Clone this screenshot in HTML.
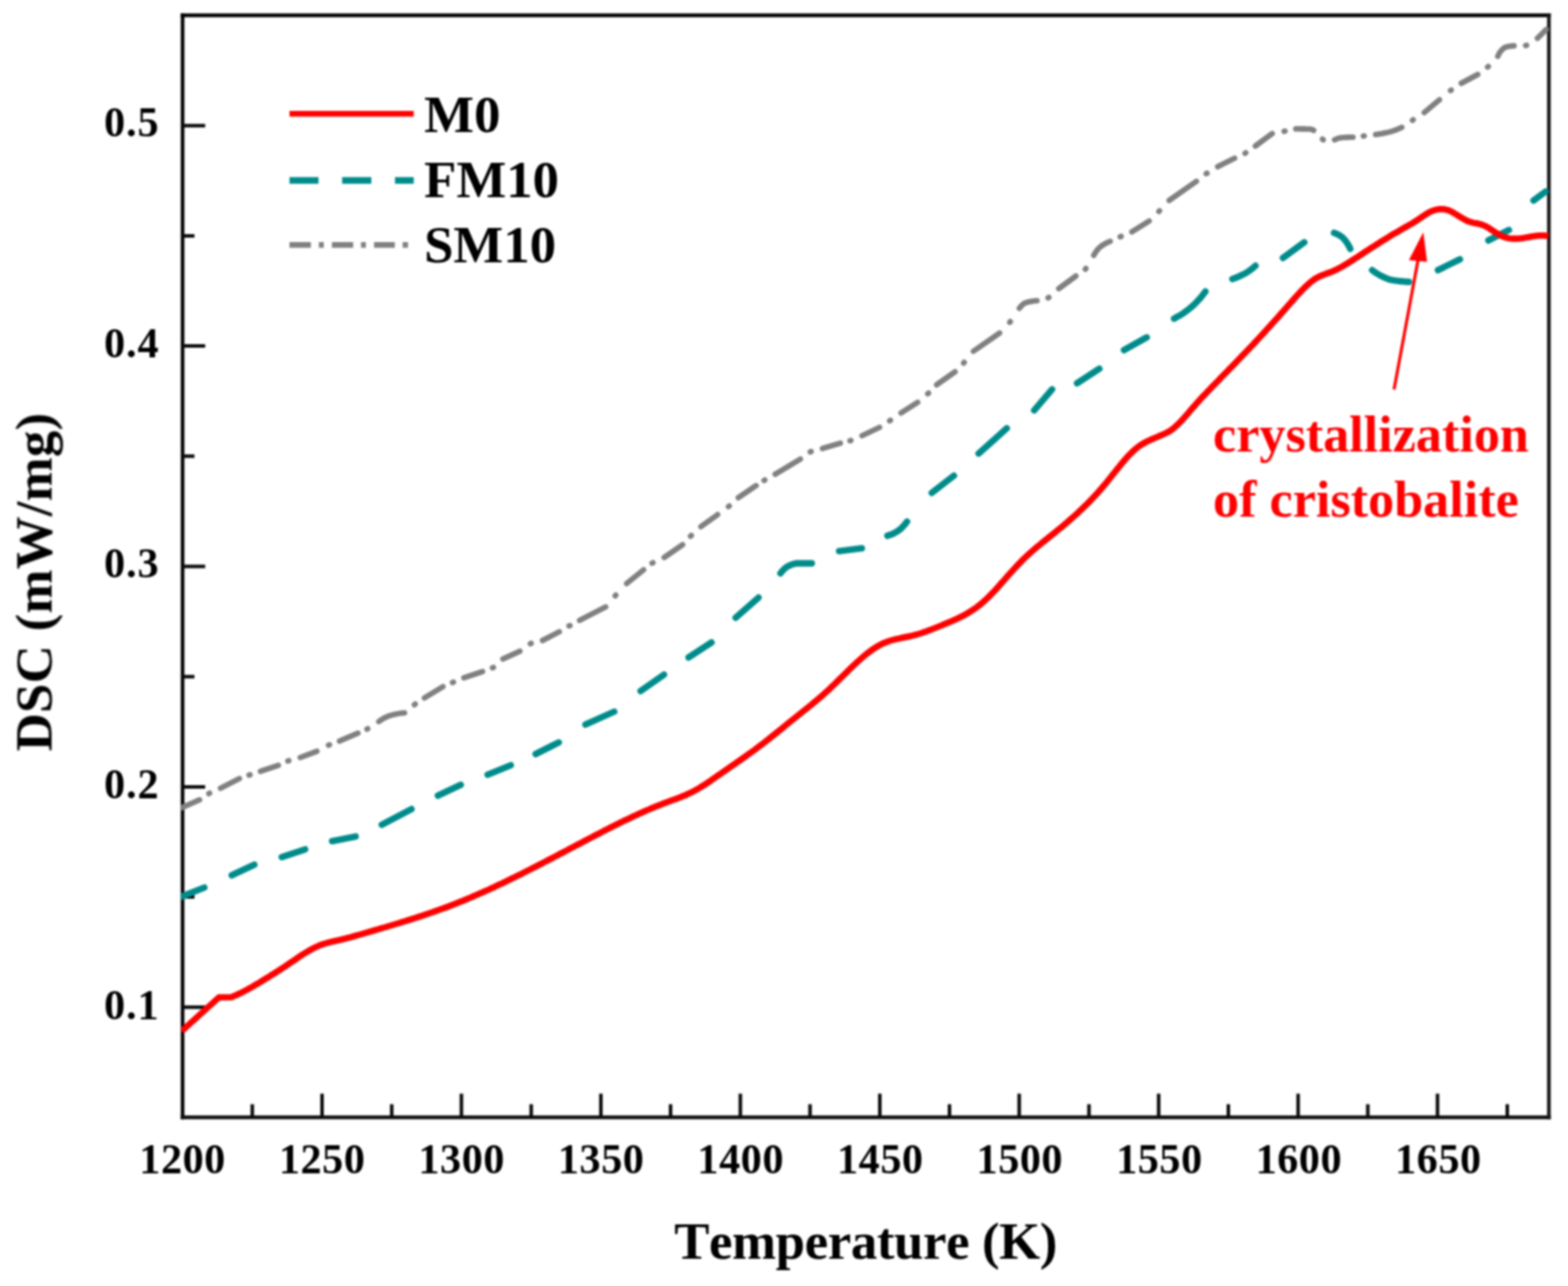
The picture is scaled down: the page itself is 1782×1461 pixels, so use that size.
<!DOCTYPE html>
<html lang="en"><head><meta charset="utf-8"><title>DSC curves</title>
<style>html,body{margin:0;padding:0;background:#fff}body{width:1782px;height:1461px;overflow:hidden}svg{display:block}text{font-family:'Liberation Serif', 'DejaVu Serif', serif;font-weight:bold}</style>
</head><body>
<svg width="1782" height="1461" viewBox="0 0 1782 1461" role="img" aria-label="DSC curves of M0, FM10 and SM10 versus temperature">
<rect x="0" y="0" width="1782" height="1461" fill="#fff"/>
<filter id="soft" x="0" y="0" width="1782" height="1461" filterUnits="userSpaceOnUse" color-interpolation-filters="sRGB"><feGaussianBlur stdDeviation="0.9"/></filter>
<g filter="url(#soft)">
<g stroke="#000" fill="none" stroke-linecap="butt">
<line x1="207.5" y1="15.2" x2="207.5" y2="1271.6" stroke-width="4.1"/>
<line x1="205.4" y1="17.4" x2="1762.4" y2="17.4" stroke-width="4.3"/>
<line x1="205.4" y1="1269.4" x2="1762.4" y2="1269.4" stroke="#0c0c0c" stroke-width="4.2"/>
<line x1="1760.3" y1="15.2" x2="1760.3" y2="1271.6" stroke="#141414" stroke-width="4.1"/>
<path stroke="#0a0a0a" stroke-width="4" d="M286.7 1269.4 V1254.4 M366 1269.4 V1242.6 M445.2 1269.4 V1254.4 M524.4 1269.4 V1242.6 M603.7 1269.4 V1254.4 M682.9 1269.4 V1242.6 M762.1 1269.4 V1254.4 M841.4 1269.4 V1242.6 M920.6 1269.4 V1254.4 M999.9 1269.4 V1242.6 M1079.1 1269.4 V1254.4 M1158.3 1269.4 V1242.6 M1237.6 1269.4 V1254.4 M1316.8 1269.4 V1242.6 M1396 1269.4 V1254.4 M1475.3 1269.4 V1242.6 M1554.5 1269.4 V1254.4 M1633.7 1269.4 V1242.6 M1713 1269.4 V1254.4 M207.5 1144.3 H233.2 M207.5 1019.1 H221 M207.5 893.9 H233.2 M207.5 768.7 H221 M207.5 643.5 H233.2 M207.5 518.3 H221 M207.5 393.1 H233.2 M207.5 267.9 H221 M207.5 142.7 H233.2"/>
</g>
<clipPath id="plotclip"><rect x="205.6" y="15" width="1554.9" height="1256.6"/></clipPath>
<g fill="none" stroke-linejoin="round" clip-path="url(#plotclip)">
<path stroke="#808080" stroke-width="6.3" stroke-linecap="round" d="M206.5 917.6 L226.8 908.7 M250.6 895.5 L272.1 884.5 M296 876.3 L316.3 869.6 M341.2 860.6 L360.2 853.5 M385.9 841.9 L406.8 832.9 M430.5 819.7 L432.9 818 L435.4 816.5 L437.9 815.1 L440.5 813.9 L443.1 813 L445.7 812.3 L448.4 811.6 L451.2 811 L454 810.5 L456.8 810.1 L459.7 809.9 M482.4 792.9 L503.4 780.1 M527.2 770 L548.4 763 M571.6 748.6 L590.8 739.8 M616.6 727.6 L635.6 717.8 M658.7 704.7 L688.3 689.5 M712.2 662.9 L731.4 647.4 M754.8 633.3 L775.7 618.8 M796.6 598.3 L815.5 584.7 M839.1 565.4 L859.3 551.7 M881 538.7 L909.6 521.6 M934.7 509.5 L955 503.4 M979.7 495 L999.6 485.5 M1024 469.1 L1042.9 457.1 M1064.5 437.1 L1085.4 422.4 M1106.3 399 L1136 378.4 M1158.5 350.2 L1160.5 347.7 L1162.6 345.7 L1164.9 344.2 L1167.3 343.4 L1169.8 342.8 L1172.6 342.3 L1175.5 341.9 L1178.5 341.7 M1203.3 327.9 L1222.7 313.6 M1243 290.1 L1244.5 287.5 L1246.1 285.2 L1247.8 283 L1249.7 281.2 L1251.7 279.5 L1254 278 L1256.4 276.6 L1259 275.3 L1261.7 274.2 M1286.4 263.4 L1306 251.1 M1328.8 227.7 L1359.7 206 M1383.9 189.4 L1403.1 179.8 M1426.7 165.9 L1445.8 151.8 M1472.7 146.4 L1475.9 146.4 L1478.9 146.5 L1481.9 146.5 L1484.8 146.6 L1487.6 146.7 L1490.4 146.8 L1492.9 148.1 M1516.7 158.8 L1519.6 157.6 L1522.5 156.7 L1525.4 156.4 L1528.4 156.2 L1531.5 156 L1534.5 155.9 L1537.6 155.8 M1563.4 152.8 L1566.5 152.4 L1569.6 151.9 L1572.6 151.3 L1575.7 150.7 L1578.6 150 L1581.6 149.2 L1584.5 148.3 L1587.4 147.2 L1590.3 146 L1593.1 144.7 M1618.6 127.8 L1635.9 113.4 M1660.7 94.6 L1679.4 84.6 M1702.2 64 L1703.7 60.8 L1705.6 58.1 L1707.6 55.9 L1709.7 54.2 L1712 53.3 L1714.5 52.7 L1717.4 52.3 L1720.6 52 M1747.3 43.5 L1757.3 33.5 M237.4 901.6 L238.2 901.1 M283.1 880.5 L284.1 880.2 M327.2 864.5 L328.2 864.2 M373.4 846.6 L374.4 846.2 M417.1 828.4 L417.9 827.9 M471 800.6 L471.8 799.9 M514.3 775.4 L515.3 775 M559.7 758.7 L560.7 758.3 M602.8 731.3 L603.6 730.8 M646.7 711.1 L647.7 710.8 M699.2 676.9 L699.8 676.2 M741.1 639.8 L742.1 639.3 M784.8 609.1 L785.6 608.4 M827.9 575.5 L828.7 574.9 M868.4 545.8 L869.2 545.3 M920.8 513.4 L921.8 513 M966 500.7 L967 500.4 M1011.1 478.1 L1011.9 477.5 M1054.4 447.3 L1055.2 446.7 M1095.2 412.5 L1095.8 411.7 M1147.6 366.2 L1148.2 365.4 M1191.2 338.4 L1192 337.9 M1233.5 305.8 L1234.1 305 M1273.1 269 L1274.1 268.6 M1317.1 240.2 L1317.7 239.5 M1370.9 197.3 L1371.7 196.9 M1415 174.1 L1415.8 173.6 M1459.4 149.2 L1460.4 149 M1503 158.2 L1503.8 158.8 M1549.4 154.6 L1550.4 154.4 M1605.2 136.7 L1606 136.1 M1648.5 102.8 L1649.3 102.3 M1690.6 76.2 L1691.4 75.6 M1733.9 51.7 L1734.9 51.4"/>
<path stroke="#008b8b" stroke-width="7.4" stroke-linecap="round" d="M206.7 1018.5 L232.2 1008.4 M263.4 994.4 L289 982.3 M320.2 973.7 L346.8 964.9 M377.5 955.6 L404.1 950.3 M433.9 937 L467.6 919.2 M497.7 903.9 L523.6 891.7 M554.2 880.2 L580.5 869.4 M608.8 856.6 L635 843.5 M665.4 823.2 L698 808.5 M728.1 785.1 L754.6 766.4 M782.6 746.9 L808.6 729.9 M836.1 701.8 L862 678.9 M887 651.4 L888.8 649 L890.7 646.9 L892.8 645 L895 643.6 L897.4 642.4 L900.1 641.3 L902.9 640.4 L905.7 640 L908.5 640 L911.3 640 L914.1 640 L916.9 640 L919.8 640 L922.6 640 M953.7 626.1 L979.4 622.9 M1008.5 608.6 L1011.3 607.8 L1013.9 606.8 L1016.4 605.6 L1018.7 604.3 L1020.9 602.9 L1023.1 601.2 L1025.1 599.3 L1027.1 597.2 L1029 595 L1030.8 592.6 M1059 559.9 L1084.1 540.4 M1112.2 515.2 L1144.2 486.6 M1175.4 466.1 L1195.6 442.4 M1224.1 435.4 L1249.4 418.9 M1277.4 397.8 L1303.2 383.3 M1334.3 362 L1336.9 360.6 L1339.6 359.1 L1342.1 357.6 L1344.6 356 L1347 354.3 L1349.3 352.6 L1351.6 350.8 L1353.8 348.9 L1356 346.9 L1358.2 344.9 L1360.3 342.8 L1362.3 340.6 L1364.3 338.4 L1366.2 336 L1368.1 333.6 L1369.9 331.2 M1400.6 316.9 L1403.2 316 L1405.9 315 L1408.4 313.9 L1410.9 312.7 L1413.4 311.5 L1415.8 310.2 L1418.1 308.8 L1420.3 307.3 L1422.6 305.6 L1424.7 303.8 L1426.8 301.9 M1458.1 293 L1482.3 275.3 M1516.1 264.5 L1518.9 265.6 L1521.5 266.8 L1523.9 268.3 L1526.2 270.3 L1528.3 272.5 L1530.1 274.9 L1531.7 277.3 L1533.2 279.9 L1534.5 282.6 M1559.4 306.9 L1561.8 308.7 L1564.3 310.4 L1566.8 311.9 L1569.4 313.3 L1572.1 314.6 L1574.8 315.9 L1577.7 317 L1580.5 317.9 L1583.4 318.4 L1586.2 318.8 L1589.2 319.2 L1592.1 319.5 L1595.1 319.8 L1598.1 320 L1601.1 320.2 M1634.2 306.8 L1659.1 294.7 M1691.5 273.1 L1714.8 261.3 M1742.9 227.8 L1756.6 217.6"/>
<path stroke="#ff0000" stroke-width="7.2" d="M206.5 1171.4 L248.8 1133.2 L256 1133 L262.9 1132.8 L265.4 1131.8 L267.9 1130.7 L270.4 1129.6 L272.9 1128.4 L275.4 1127.2 L277.9 1125.9 L280.4 1124.6 L282.9 1123.2 L285.4 1121.8 L287.9 1120.4 L290.4 1118.9 L292.9 1117.5 L295.4 1116 L297.9 1114.4 L300.4 1112.9 L302.9 1111.3 L305.4 1109.8 L307.9 1108.2 L310.4 1106.7 L312.9 1105.1 L315.4 1103.5 L317.9 1101.9 L320.4 1100.3 L322.9 1098.7 L325.4 1097 L327.9 1095.3 L330.4 1093.6 L332.9 1091.9 L335.4 1090.2 L337.9 1088.5 L340.4 1086.8 L342.9 1085.1 L345.4 1083.5 L347.9 1082 L350.4 1080.5 L352.9 1079.1 L355.4 1077.7 L357.9 1076.5 L360.4 1075.3 L362.9 1074.2 L365.4 1073.2 L367.9 1072.4 L370.4 1071.6 L372.9 1070.9 L375.4 1070.3 L377.9 1069.7 L380.4 1069.1 L382.9 1068.6 L385.4 1068 L387.8 1067.4 L390.3 1066.8 L392.8 1066.2 L395.3 1065.5 L397.8 1064.9 L400.3 1064.2 L402.8 1063.5 L405.3 1062.8 L407.8 1062.1 L410.3 1061.4 L412.8 1060.7 L415.3 1059.9 L417.8 1059.2 L420.3 1058.5 L422.8 1057.8 L425.3 1057 L427.8 1056.3 L430.3 1055.6 L432.8 1054.8 L435.3 1054.1 L437.8 1053.4 L440.3 1052.6 L442.8 1051.9 L445.3 1051.1 L447.8 1050.4 L450.3 1049.6 L452.8 1048.9 L455.3 1048.1 L457.8 1047.3 L460.3 1046.6 L462.8 1045.8 L465.3 1045 L467.8 1044.2 L470.3 1043.4 L472.8 1042.6 L475.3 1041.8 L477.8 1041 L480.3 1040.2 L482.8 1039.3 L485.3 1038.5 L487.8 1037.6 L490.3 1036.8 L492.8 1035.9 L495.3 1035 L497.8 1034.1 L500.3 1033.2 L502.8 1032.3 L505.3 1031.4 L507.8 1030.5 L510.3 1029.6 L512.8 1028.6 L515.3 1027.6 L517.8 1026.7 L520.3 1025.7 L522.8 1024.7 L525.3 1023.7 L527.8 1022.6 L530.3 1021.6 L532.8 1020.5 L535.3 1019.5 L537.8 1018.4 L540.3 1017.3 L542.8 1016.2 L545.3 1015.1 L547.8 1014 L550.3 1012.9 L552.8 1011.8 L555.3 1010.7 L557.8 1009.5 L560.3 1008.4 L562.8 1007.2 L565.3 1006 L567.8 1004.8 L570.3 1003.7 L572.8 1002.5 L575.3 1001.3 L577.8 1000 L580.3 998.8 L582.8 997.6 L585.3 996.4 L587.8 995.1 L590.3 993.9 L592.8 992.7 L595.3 991.4 L597.8 990.1 L600.3 988.9 L602.8 987.6 L605.3 986.3 L607.8 985.1 L610.3 983.8 L612.8 982.5 L615.3 981.2 L617.8 979.9 L620.3 978.6 L622.8 977.3 L625.3 976 L627.8 974.7 L630.3 973.4 L632.8 972.1 L635.3 970.8 L637.7 969.5 L640.2 968.2 L642.7 966.9 L645.2 965.6 L647.7 964.2 L650.2 962.9 L652.7 961.6 L655.2 960.3 L657.7 959 L660.2 957.7 L662.7 956.4 L665.2 955 L667.7 953.7 L670.2 952.4 L672.7 951.1 L675.2 949.8 L677.7 948.5 L680.2 947.2 L682.7 945.9 L685.2 944.6 L687.7 943.3 L690.2 942.1 L692.7 940.8 L695.2 939.5 L697.7 938.3 L700.2 937 L702.7 935.8 L705.2 934.5 L707.7 933.3 L710.2 932.1 L712.7 930.9 L715.2 929.7 L717.7 928.5 L720.2 927.3 L722.7 926.2 L725.2 925 L727.7 923.9 L730.2 922.7 L732.7 921.6 L735.2 920.5 L737.7 919.5 L740.2 918.4 L742.7 917.4 L745.2 916.3 L747.7 915.3 L750.2 914.3 L752.7 913.4 L755.2 912.4 L757.7 911.5 L760.2 910.5 L762.7 909.6 L765.2 908.7 L767.7 907.8 L770.2 906.8 L772.7 905.9 L775.2 904.9 L777.7 903.8 L780.2 902.8 L782.7 901.6 L785.2 900.4 L787.7 899.2 L790.2 897.9 L792.7 896.5 L795.2 895 L797.7 893.4 L800.2 891.9 L802.7 890.2 L805.2 888.6 L807.7 886.9 L810.2 885.1 L812.7 883.4 L815.2 881.6 L817.7 879.9 L820.2 878.2 L822.7 876.4 L825.2 874.7 L827.7 873 L830.2 871.2 L832.7 869.5 L835.2 867.8 L837.7 866 L840.2 864.3 L842.7 862.5 L845.2 860.8 L847.7 859 L850.2 857.2 L852.7 855.4 L855.2 853.6 L857.7 851.8 L860.2 849.9 L862.7 848 L865.2 846.2 L867.7 844.3 L870.2 842.3 L872.7 840.4 L875.2 838.4 L877.7 836.4 L880.2 834.4 L882.7 832.4 L885.2 830.4 L887.6 828.4 L890.1 826.4 L892.6 824.3 L895.1 822.3 L897.6 820.2 L900.1 818.2 L902.6 816.2 L905.1 814.2 L907.6 812.2 L910.1 810.2 L912.6 808.2 L915.1 806.2 L917.6 804.2 L920.1 802.2 L922.6 800.2 L925.1 798.1 L927.6 796.1 L930.1 794 L932.6 791.8 L935.1 789.7 L937.6 787.4 L940.1 785.1 L942.6 782.8 L945.1 780.4 L947.6 778 L950.1 775.6 L952.6 773.1 L955.1 770.7 L957.6 768.2 L960.1 765.7 L962.6 763.3 L965.1 760.8 L967.6 758.4 L970.1 756 L972.6 753.6 L975.1 751.3 L977.6 749.1 L980.1 746.9 L982.6 744.8 L985.1 742.7 L987.6 740.8 L990.1 739 L992.6 737.2 L995.1 735.6 L997.6 734.1 L1000.1 732.7 L1002.6 731.4 L1005.1 730.3 L1007.6 729.3 L1010.1 728.4 L1012.6 727.6 L1015.1 726.9 L1017.6 726.3 L1020.1 725.7 L1022.6 725.2 L1025.1 724.6 L1027.6 724.1 L1030.1 723.6 L1032.6 723.1 L1035.1 722.6 L1037.6 722 L1040.1 721.3 L1042.6 720.6 L1045.1 719.9 L1047.6 719.1 L1050.1 718.2 L1052.6 717.3 L1055.1 716.4 L1057.6 715.5 L1060.1 714.5 L1062.6 713.5 L1065.1 712.5 L1067.6 711.5 L1070.1 710.5 L1072.6 709.4 L1075.1 708.4 L1077.6 707.3 L1080.1 706.3 L1082.6 705.2 L1085.1 704.1 L1087.6 703 L1090.1 701.8 L1092.6 700.5 L1095.1 699.2 L1097.6 697.9 L1100.1 696.4 L1102.6 694.9 L1105.1 693.3 L1107.6 691.6 L1110.1 689.8 L1112.6 687.9 L1115.1 685.9 L1117.6 683.7 L1120.1 681.5 L1122.6 679.1 L1125.1 676.6 L1127.6 674 L1130.1 671.4 L1132.6 668.7 L1135.1 666 L1137.5 663.2 L1140 660.4 L1142.5 657.6 L1145 654.7 L1147.5 651.9 L1150 649.1 L1152.5 646.4 L1155 643.7 L1157.5 641 L1160 638.4 L1162.5 635.9 L1165 633.5 L1167.5 631.1 L1170 628.8 L1172.5 626.6 L1175 624.4 L1177.5 622.3 L1180 620.2 L1182.5 618.2 L1185 616.1 L1187.5 614.1 L1190 612.1 L1192.5 610.1 L1195 608.1 L1197.5 606.1 L1200 604.1 L1202.5 602 L1205 600 L1207.5 597.9 L1210 595.8 L1212.5 593.7 L1215 591.5 L1217.5 589.3 L1220 587.1 L1222.5 584.9 L1225 582.6 L1227.5 580.2 L1230 577.9 L1232.5 575.4 L1235 573 L1237.5 570.4 L1240 567.9 L1242.5 565.2 L1245 562.6 L1247.5 559.8 L1250 557 L1252.5 554.1 L1255 551.2 L1257.5 548.2 L1260 545.1 L1262.5 542 L1265 538.8 L1267.5 535.7 L1270 532.5 L1272.5 529.4 L1275 526.4 L1277.5 523.4 L1280 520.5 L1282.5 517.8 L1285 515.2 L1287.5 512.7 L1290 510.5 L1292.5 508.4 L1295 506.6 L1297.5 504.9 L1300 503.5 L1302.5 502.1 L1305 500.9 L1307.5 499.8 L1310 498.6 L1312.5 497.5 L1315 496.5 L1317.5 495.4 L1320 494.3 L1322.5 493.2 L1325 492.1 L1327.5 490.8 L1330 489.3 L1332.5 487.5 L1335 485.5 L1337.5 483.2 L1340 480.8 L1342.5 478.2 L1345 475.5 L1347.5 472.6 L1350 469.8 L1352.5 466.8 L1355 463.9 L1357.5 461.1 L1360 458.2 L1362.5 455.5 L1365 452.7 L1367.5 450 L1370 447.4 L1372.5 444.8 L1375 442.2 L1377.5 439.6 L1380 437 L1382.5 434.5 L1385 431.9 L1387.4 429.3 L1389.9 426.8 L1392.4 424.2 L1394.9 421.7 L1397.4 419.1 L1399.9 416.6 L1402.4 414 L1404.9 411.4 L1407.4 408.8 L1409.9 406.2 L1412.4 403.6 L1414.9 401 L1417.4 398.4 L1419.9 395.8 L1422.4 393.1 L1424.9 390.5 L1427.4 387.8 L1429.9 385.1 L1432.4 382.4 L1434.9 379.7 L1437.4 377 L1439.9 374.2 L1442.4 371.5 L1444.9 368.7 L1447.4 365.9 L1449.9 363.1 L1452.4 360.3 L1454.9 357.5 L1457.4 354.7 L1459.9 351.9 L1462.4 349 L1464.9 346.2 L1467.4 343.3 L1469.9 340.5 L1472.4 337.7 L1474.9 334.9 L1477.4 332.2 L1479.9 329.5 L1482.4 327 L1484.9 324.6 L1487.4 322.3 L1489.9 320.2 L1492.4 318.3 L1494.9 316.6 L1497.4 315.1 L1499.9 313.9 L1502.4 312.8 L1504.9 311.8 L1507.4 310.9 L1509.9 310 L1512.4 309.1 L1514.9 308.1 L1517.4 306.9 L1519.9 305.7 L1522.4 304.4 L1524.9 303.1 L1527.4 301.6 L1529.9 300.1 L1532.4 298.6 L1534.9 297 L1537.4 295.4 L1539.9 293.8 L1542.4 292.2 L1544.9 290.6 L1547.4 288.9 L1549.9 287.3 L1552.4 285.6 L1554.9 284 L1557.4 282.4 L1559.9 280.8 L1562.4 279.2 L1564.9 277.6 L1567.4 276 L1569.9 274.4 L1572.4 272.8 L1574.9 271.3 L1577.4 269.8 L1579.9 268.2 L1582.4 266.7 L1584.9 265.2 L1587.4 263.8 L1589.9 262.3 L1592.4 260.9 L1594.9 259.4 L1597.4 258 L1599.9 256.6 L1602.4 255.2 L1604.9 253.8 L1607.4 252.2 L1609.9 250.7 L1612.4 249 L1614.9 247.3 L1617.4 245.6 L1619.9 243.9 L1622.4 242.3 L1624.9 240.9 L1627.4 239.8 L1629.9 238.9 L1632.4 238.2 L1634.9 237.7 L1637.3 237.5 L1639.8 237.6 L1642.3 237.9 L1644.8 238.5 L1647.3 239.4 L1649.8 240.6 L1652.3 242 L1654.8 243.5 L1657.3 245.1 L1659.8 246.6 L1662.3 248.1 L1664.8 249.5 L1667.3 250.8 L1669.8 251.8 L1672.3 252.6 L1674.8 253.2 L1677.3 253.6 L1679.8 254.1 L1682.3 254.7 L1684.8 255.5 L1687.3 256.5 L1689.8 257.8 L1692.3 259.2 L1694.8 260.9 L1697.3 262.6 L1699.8 264.2 L1702.3 265.8 L1704.8 267.2 L1707.3 268.4 L1709.8 269.4 L1712.3 270.1 L1714.8 270.7 L1717.3 271 L1719.8 271.2 L1722.3 271.2 L1724.8 271.1 L1727.3 270.9 L1729.8 270.6 L1732.3 270.2 L1734.8 269.8 L1737.3 269.4 L1739.8 268.9 L1742.3 268.5 L1744.8 268.1 L1747.3 267.8 L1749.8 267.6 L1752.3 267.6 L1754.8 267.6 L1757.3 267.8 L1759.8 268.2"/>
</g>
<g stroke="#ff0000" fill="#ff0000">
<line x1="1584.3" y1="442.5" x2="1612.2" y2="292" stroke-width="3.5"/>
<polygon points="1617.6,263.8 1601.2,295.6 1621.8,297.6" stroke="none"/>
</g>
<g fill="#000" font-size="48" text-anchor="middle" letter-spacing="0.6">
<text x="207.5" y="1332.5">1200</text>
<text x="366.1" y="1332.5">1250</text>
<text x="524.7" y="1332.5">1300</text>
<text x="683.2" y="1332.5">1350</text>
<text x="841.8" y="1332.5">1400</text>
<text x="1000.4" y="1332.5">1450</text>
<text x="1159" y="1332.5">1500</text>
<text x="1317.6" y="1332.5">1550</text>
<text x="1476.1" y="1332.5">1600</text>
<text x="1634.7" y="1332.5">1650</text>
</g>
<g fill="#000" font-size="48" text-anchor="end" letter-spacing="1">
<text x="181.3" y="1157.9">0.1</text>
<text x="181.3" y="907.1">0.2</text>
<text x="181.3" y="656.4">0.3</text>
<text x="181.3" y="405.6">0.4</text>
<text x="181.3" y="154.9">0.5</text>
</g>
<text x="984" y="1429.8" font-size="60" text-anchor="middle" textLength="435.6" lengthAdjust="spacing" style="font-kerning:none" fill="#000">Temperature (K)</text>
<text transform="translate(58.6 661.3) rotate(-90)" font-size="60" text-anchor="middle" textLength="384.6" lengthAdjust="spacing" fill="#000">DSC (mW/mg)</text>
<g fill="none">
<line x1="329" y1="129.3" x2="470.2" y2="129.3" stroke="#ff0000" stroke-width="6.5"/>
<path d="M329 205 H362 M388.8 205 H422 M448.9 205 H470.2" stroke="#008b8b" stroke-width="7.4"/>
<path d="M329 278.2 H353.3 M362.4 278.2 H368 M377.2 278.2 H401.4 M410.3 278.2 H415.8 M425.1 278.2 H448.7 M457.6 278.2 H463.7" stroke="#808080" stroke-width="6.6"/>
</g>
<g fill="#000" font-size="60">
<text x="482" y="149.7">M0</text>
<text x="482" y="224.4">FM10</text>
<text x="482" y="298.2">SM10</text>
</g>
<g fill="#ff0000" font-size="59.3">
<text x="1378.6" y="512.6">crystallization</text>
<text x="1378.6" y="587.3">of cristobalite</text>
</g>
</g>
</svg>
</body></html>
